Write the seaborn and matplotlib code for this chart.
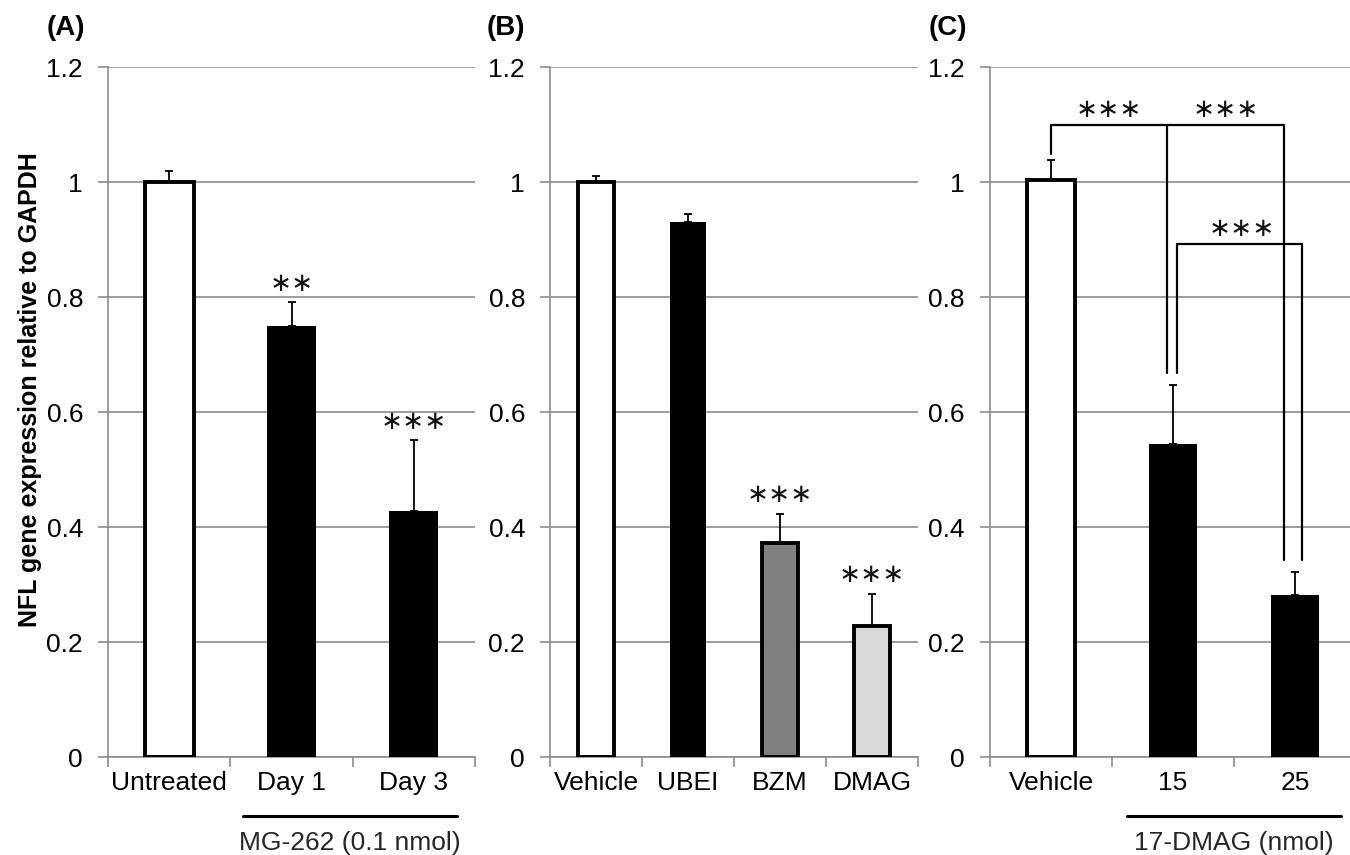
import numpy as np
import pandas as pd
import matplotlib
matplotlib.use("Agg")
import matplotlib.pyplot as plt
import matplotlib.transforms as mtransforms
import seaborn as sns

# ---------------- data ----------------
A_labels = ["Untreated", "Day 1", "Day 3"]
A_values = [1.0, 0.75, 0.427]
A_err = [0.02, 0.041, 0.124]
A_colors = ["white", "black", "black"]
A_stars = ["", "∗∗", "∗∗∗"]
A_group = "MG-262 (0.1 nmol)"

B_labels = ["Vehicle", "UBEI", "BZM", "DMAG"]
B_values = [1.0, 0.93, 0.373, 0.228]
B_err = [0.01, 0.015, 0.05, 0.056]
B_colors = ["white", "black", "#808080", "#d9d9d9"]
B_stars = ["", "", "∗∗∗", "∗∗∗"]

C_labels = ["Vehicle", "15", "25"]
C_values = [1.003, 0.544, 0.282]
C_err = [0.035, 0.103, 0.04]
C_colors = ["white", "black", "black"]
C_group = "17-DMAG (nmol)"
C_stars = "∗∗∗"

y_ticks = [0, 0.2, 0.4, 0.6, 0.8, 1.0, 1.2]
y_label = "NFL gene expression relative to GAPDH"
panel_tags = ["(A)", "(B)", "(C)"]

# ---------------- style ----------------
sns.set_theme(style="white")
plt.rcParams["font.family"] = ["Liberation Sans", "DejaVu Sans"]
GRID = "#8c8c8c"
STAR_FONT = ["DejaVu Sans"]
STAR_SIZE = 19

fig = plt.figure(figsize=(13.5, 8.55), dpi=100)
H = 855.0
W = 1350.0
ax_bottom = (H - 757) / H
ax_height = 690 / H
axA = fig.add_axes([108 / W, ax_bottom, 367 / W, ax_height])
axB = fig.add_axes([550 / W, ax_bottom, 368 / W, ax_height])
axC = fig.add_axes([990 / W, ax_bottom, 366 / W, ax_height])


def draw_panel(ax, labels, values, err, colors):
    n = len(labels)
    df = pd.DataFrame({"cat": labels, "val": values})
    sns.barplot(data=df, x="cat", y="val", hue="cat", order=labels, hue_order=labels,
                palette=dict(zip(labels, colors)), width=0.4, saturation=1,
                legend=False, ax=ax, zorder=3)
    for p in ax.patches:
        idx = int(round(p.get_x() + p.get_width() / 2))
        c = colors[idx]
        p.set_edgecolor("black")
        p.set_linewidth(0 if c == "black" else 2.8)
        p.set_zorder(3)
    ax.errorbar(np.arange(n), values, yerr=[np.zeros(n), err], fmt="none",
                ecolor="black", elinewidth=1.3, capsize=3.2, capthick=1.3, zorder=4)
    ax.set_ylim(0, 1.2)
    ax.set_xlim(-0.5, n - 0.5)
    ax.set_yticks(y_ticks)
    ax.set_yticklabels(["{:g}".format(t) for t in y_ticks])
    ax.set_xticks(np.arange(-0.5, n, 1.0))
    ax.set_xticklabels([])
    ax.set_xticks(np.arange(n), minor=True)
    ax.set_xticklabels(labels, minor=True)
    ax.tick_params(axis="x", which="major", direction="out", length=7, width=1.2,
                   color=GRID, bottom=True)
    ax.tick_params(axis="x", which="minor", length=0, pad=10, labelsize=19,
                   labelcolor="black", bottom=True)
    ax.tick_params(axis="y", direction="out", length=7, width=1.2, color=GRID,
                   pad=11, labelsize=19, labelcolor="black", left=True)
    ax.grid(axis="y", color=GRID, linewidth=1.2, zorder=0)
    ax.grid(axis="x", visible=False)
    ax.set_axisbelow(True)
    for s in ["top", "right"]:
        ax.spines[s].set_visible(False)
    for s in ["left", "bottom"]:
        ax.spines[s].set_color(GRID)
        ax.spines[s].set_linewidth(1.2)
    ax.set_xlabel("")
    ax.set_ylabel("")
    ax.patch.set_alpha(0)


def draw_stars(ax, values, err, stars):
    for i, (v, e, s) in enumerate(zip(values, err, stars)):
        if s:
            ax.text(i, v + e + 0.032, s, ha="center", va="center", fontsize=STAR_SIZE,
                    family=STAR_FONT, color="#111111", zorder=5)


def draw_group(ax, x0, x1, text):
    tr = mtransforms.blended_transform_factory(ax.transData, ax.transAxes)
    ax.plot([x0, x1], [-0.0855, -0.0855], color="black", lw=2.2, transform=tr,
            clip_on=False)
    ax.text((x0 + x1) / 2, -0.125, text, ha="center", va="center", fontsize=19,
            transform=tr, clip_on=False)


draw_panel(axA, A_labels, A_values, A_err, A_colors)
draw_stars(axA, A_values, A_err, A_stars)
draw_group(axA, 0.6, 2.35, A_group)

draw_panel(axB, B_labels, B_values, B_err, B_colors)
draw_stars(axB, B_values, B_err, B_stars)

draw_panel(axC, C_labels, C_values, C_err, C_colors)
draw_group(axC, 0.62, 2.38, C_group)

# significance brackets in panel C
top_C = [cv + ce for cv, ce in zip(C_values, C_err)]
lw_b = 1.6
xa, xb, xc = 0.0, 0.95, 1.91
yb = 1.099
axC.plot([xa, xa, xb, xb], [top_C[0] + 0.01, yb, yb, top_C[1] + 0.02], color="black", lw=lw_b, zorder=5)
axC.plot([xb, xc, xc], [yb, yb, top_C[2] + 0.02], color="black", lw=lw_b, zorder=5)
axC.text((xa + xb) / 2, yb + 0.027, C_stars, ha="center", va="center", fontsize=STAR_SIZE,
         family=STAR_FONT, color="#111111")
axC.text((xb + xc) / 2, yb + 0.027, C_stars, ha="center", va="center", fontsize=STAR_SIZE,
         family=STAR_FONT, color="#111111")
xd, xe = 1.035, 2.06
yb2 = 0.892
axC.plot([xd, xd, xe, xe], [top_C[1] + 0.02, yb2, yb2, top_C[2] + 0.02], color="black", lw=lw_b, zorder=5)
axC.text((xd + xe) / 2 + 0.02, yb2 + 0.027, C_stars, ha="center", va="center", fontsize=STAR_SIZE,
         family=STAR_FONT, color="#111111")

# y label
axA.set_ylabel(y_label, fontsize=18, fontweight="bold", color="black")
axA.yaxis.set_label_coords((42 - 108) / 367, (757 - 390) / 690)

# panel tags
for tag, xpx in zip(panel_tags, [47, 487, 929]):
    fig.text(xpx / W, (H - 28) / H, tag, ha="left", va="center", fontsize=20,
             fontweight="bold", color="black")

fig.savefig("out.png", dpi=100)
